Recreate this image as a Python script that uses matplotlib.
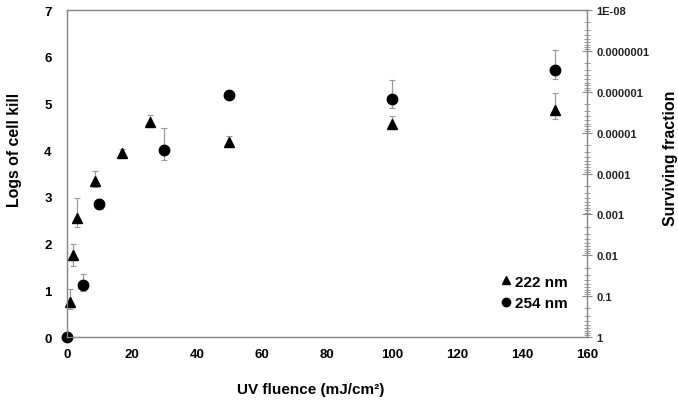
import matplotlib
matplotlib.use("Agg")
import matplotlib.pyplot as plt
from matplotlib.lines import Line2D
from matplotlib.ticker import FixedLocator, FixedFormatter, LogLocator, NullFormatter

plt.rcParams['font.family'] = ['Liberation Sans', 'DejaVu Sans']

# 222 nm
x222 = [1, 2, 3, 8.5, 17, 25.5, 50, 100, 150]
y222 = [0.75, 1.75, 2.55, 3.33, 3.93, 4.6, 4.18, 4.55, 4.85]
lo222 = [0.15, 0.22, 0.2, 0.12, 0.08, 0.08, 0.06, 0.1, 0.18]
hi222 = [0.28, 0.25, 0.43, 0.22, 0.1, 0.15, 0.12, 0.18, 0.37]

# 254 nm
x254 = [0, 5, 10, 30, 50, 100, 150]
y254 = [0.0, 1.12, 2.85, 4.0, 5.19, 5.09, 5.72]
lo254 = [0.0, 0.13, 0.1, 0.22, 0.06, 0.18, 0.2]
hi254 = [0.0, 0.23, 0.1, 0.48, 0.08, 0.42, 0.43]

right_ticks = [1, 0.1, 0.01, 0.001, 0.0001, 0.00001, 0.000001, 0.0000001, 1e-8]
right_labels = ["1", "0.1", "0.01", "0.001", "0.0001", "0.00001", "0.000001", "0.0000001", "1E-08"]

fig = plt.figure(figsize=(6.78, 4.02), dpi=100)
ax = fig.add_axes([0.0988, 0.1592, 0.767, 0.8134])

spine_c = '#8a8a8a'
err_kw = dict(ecolor='#999999', elinewidth=0.9, capsize=2.5, capthick=0.8, linestyle='none')

c1 = ax.errorbar(x222, y222, yerr=[lo222, hi222], marker='^', color='black', markersize=6.5,
                 zorder=3, **err_kw)
c2 = ax.errorbar(x254, y254, yerr=[lo254, hi254], marker='o', color='black', markersize=7.5,
                 zorder=3, **err_kw)
for c in (c1, c2):
    c[0].set_clip_on(False)

ax.set_xlim(0, 160)
ax.set_ylim(0, 7)
ax.set_xticks(range(0, 161, 20))
ax.set_yticks(range(0, 8))
ax.tick_params(axis='both', length=0, labelsize=9.5)
ax.tick_params(axis='y', pad=11)
ax.tick_params(axis='x', pad=8)
for lab in ax.get_xticklabels() + ax.get_yticklabels():
    lab.set_fontweight('bold')
for s in ax.spines.values():
    s.set_color(spine_c)
    s.set_linewidth(0.9)

ax.set_xlabel('UV fluence (mJ/cm²)', fontsize=11, fontweight='bold')
ax.xaxis.label.set_va('center')
ax.xaxis.set_label_coords(0.469, -0.159)
ax.set_ylabel('Logs of cell kill', fontsize=11.4, fontweight='bold')
ax.yaxis.set_label_coords(-0.0865, 0.575)

ax2 = ax.twinx()
ax2.set_yscale('log')
ax2.set_ylim(1, 1e-8)
ax2.yaxis.set_major_locator(FixedLocator(right_ticks))
ax2.yaxis.set_major_formatter(FixedFormatter(right_labels))
ax2.yaxis.set_minor_locator(LogLocator(base=10, subs=range(2, 10), numticks=20))
ax2.yaxis.set_minor_formatter(NullFormatter())
ax2.tick_params(axis='y', which='major', direction='inout', length=7, width=0.8,
                color=spine_c, labelsize=8, pad=3)
ax2.tick_params(axis='y', which='minor', direction='inout', length=4, width=0.6, color=spine_c)
for lab in ax2.get_yticklabels():
    lab.set_fontweight('bold')
    lab.set_color('#222222')
for s in ax2.spines.values():
    s.set_color(spine_c)
    s.set_linewidth(0.9)
ax2.set_ylabel('Surviving fraction', fontsize=11.4, fontweight='bold', rotation=90)
ax2.yaxis.set_label_coords(1.146, 0.55)

handles = [Line2D([], [], marker='^', color='black', linestyle='none', markersize=5.5),
           Line2D([], [], marker='o', color='black', linestyle='none', markersize=6)]
ax.legend(handles, ['222 nm', '254 nm'], loc='lower right', bbox_to_anchor=(0.99, 0.04),
          frameon=False, prop={'weight': 'bold', 'size': 11}, handletextpad=0.1,
          handlelength=1.0, labelspacing=0.5)

fig.savefig('out.png', dpi=100)
